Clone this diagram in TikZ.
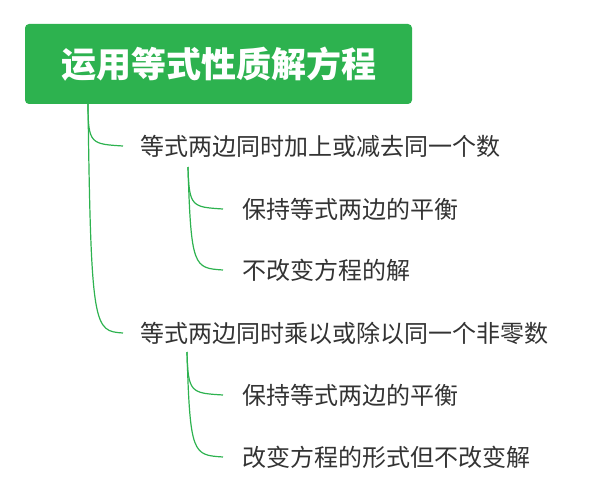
\documentclass[tikz,border=0pt]{standalone}
\usepackage{fontspec}
\newfontfamily\cjk{Noto Sans CJK SC}
\definecolor{mapgreen}{HTML}{2DB24F}
\definecolor{itemgray}{HTML}{333333}
\tikzset{
  rootbox/.style={fill=mapgreen, rounded corners=4pt, text=white,
    font=\cjk\bfseries\fontsize{35}{40}\selectfont,
    minimum width=387pt, minimum height=80pt, inner sep=0pt},
  item/.style={anchor=west, inner sep=0pt, text=itemgray,
    font=\cjk\fontsize{24}{28}\selectfont},
  branch/.style={draw=mapgreen, line width=1.2pt}
}
\begin{document}
\begin{tikzpicture}[x=1pt, y=-1pt]
  \useasboundingbox (0,0) rectangle (589,500);

  % root
  \node[rootbox] (root) at (218.5,64) {运用等式性质解方程};

  % first level
  \node[item] (add) at (140,146) {等式两边同时加上或减去同一个数};
  \node[item] (mul) at (140,333) {等式两边同时乘以或除以同一个非零数};

  % second level
  \node[item] (addA) at (242,209) {保持等式两边的平衡};
  \node[item] (addB) at (242,270) {不改变方程的解};
  \node[item] (mulA) at (242,395) {保持等式两边的平衡};
  \node[item] (mulB) at (242,457) {改变方程的形式但不改变解};

  % branch starts
  \coordinate (r0) at (88,104);
  \coordinate (a0) at (188,167);
  \coordinate (m0) at (187,352);

  % connectors
  \draw[branch] (r0) .. controls (88,144) and (91,144) .. ([xshift=-17pt]add.west);
  \draw[branch] (r0) .. controls (91,330) and (94,331) .. ([xshift=-17pt]mul.west);
  \draw[branch] (a0) .. controls (189,207) and (192,207) .. ([xshift=-19pt]addA.west);
  \draw[branch] (a0) .. controls (191,268) and (194,268) .. ([xshift=-19pt]addB.west);
  \draw[branch] (m0) .. controls (188,393) and (191,393) .. ([xshift=-19pt]mulA.west);
  \draw[branch] (m0) .. controls (190,455) and (193,455) .. ([xshift=-19pt]mulB.west);
\end{tikzpicture}
\end{document}
